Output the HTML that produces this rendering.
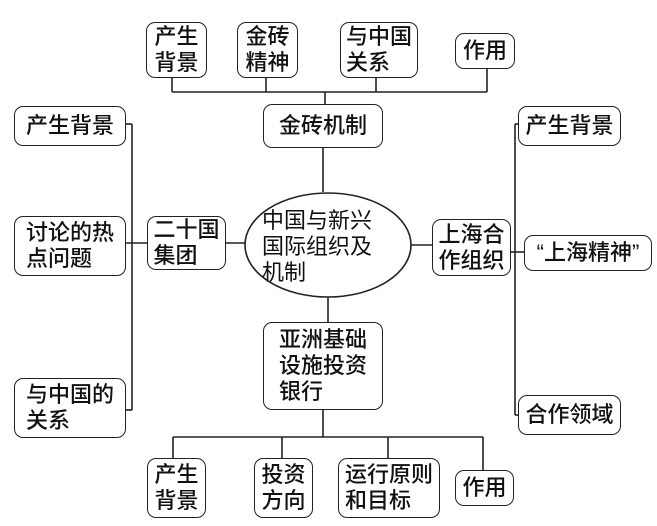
<!DOCTYPE html>
<html><head><meta charset="utf-8"><style>
body{margin:0;background:#fff;width:657px;height:526px;position:relative;overflow:hidden;font-family:"Liberation Sans","Noto Sans CJK SC",sans-serif;}
.b{position:absolute;border:1.6px solid #222;border-radius:9px;box-sizing:border-box;background:#fff;font-size:22px;line-height:26px;color:#111;display:flex;align-items:center;justify-content:center;text-align:left;font-weight:500;}
svg{position:absolute;left:0;top:0}
</style></head><body>
<svg width="657" height="526" stroke="#222" stroke-width="1.6" fill="none">
<line x1="172" y1="92" x2="487" y2="92"/>
<line x1="172" y1="78" x2="172" y2="92"/>
<line x1="266" y1="78" x2="266" y2="92"/>
<line x1="376" y1="78" x2="376" y2="92"/>
<line x1="487" y1="68" x2="487" y2="92"/>
<line x1="325" y1="92" x2="325" y2="104"/>
<line x1="323" y1="148" x2="323" y2="192"/>
<ellipse cx="328" cy="245" rx="83" ry="52" fill="#fff"/>
<line x1="226" y1="243" x2="246" y2="243"/>
<line x1="132" y1="124" x2="132" y2="410"/>
<line x1="126" y1="124" x2="132" y2="124"/>
<line x1="126" y1="410" x2="132" y2="410"/>
<line x1="126" y1="243" x2="147" y2="243"/>
<line x1="411" y1="245" x2="432" y2="245"/>
<line x1="515" y1="124" x2="515" y2="415"/>
<line x1="515" y1="124" x2="518" y2="124"/>
<line x1="515" y1="415" x2="518" y2="415"/>
<line x1="511" y1="252" x2="524" y2="252"/>
<line x1="328" y1="297" x2="328" y2="322"/>
<line x1="323" y1="410" x2="323" y2="437"/>
<line x1="173" y1="437" x2="483" y2="437"/>
<line x1="173" y1="437" x2="173" y2="458"/>
<line x1="282" y1="437" x2="282" y2="458"/>
<line x1="388" y1="437" x2="388" y2="458"/>
<line x1="483" y1="437" x2="483" y2="470"/>
</svg>
<div class="b" style="left:146px;top:22px;width:61px;height:56px">产生<br>背景</div>
<div class="b" style="left:237px;top:22px;width:61px;height:56px">金砖<br>精神</div>
<div class="b" style="left:340px;top:22px;width:78px;height:56px">与中国<br>关系</div>
<div class="b" style="left:455px;top:33px;width:60px;height:36px">作用</div>
<div class="b" style="left:263px;top:104px;width:120px;height:44px">金砖机制</div>
<div style="position:absolute;left:262px;top:208px;width:140px;font-size:22px;line-height:26px;color:#111;">中国与新兴<br>国际组织及<br>机制</div>
<div class="b" style="left:147px;top:216px;width:79px;height:54px">二十国<br>集团</div>
<div class="b" style="left:14px;top:106px;width:112px;height:40px">产生背景</div>
<div class="b" style="left:14px;top:216px;width:112px;height:60px">讨论的热<br>点问题</div>
<div class="b" style="left:14px;top:378px;width:112px;height:60px">与中国的<br>关系</div>
<div class="b" style="left:432px;top:219px;width:79px;height:57px">上海合<br>作组织</div>
<div class="b" style="left:518px;top:106px;width:103px;height:40px">产生背景</div>
<div class="b" style="left:524px;top:235px;width:128px;height:36px">“上海精神”</div>
<div class="b" style="left:518px;top:395px;width:103px;height:40px">合作领域</div>
<div class="b" style="left:263px;top:322px;width:120px;height:88px">亚洲基础<br>设施投资<br>银行</div>
<div class="b" style="left:147px;top:458px;width:59px;height:60px">产生<br>背景</div>
<div class="b" style="left:254px;top:458px;width:59px;height:60px">投资<br>方向</div>
<div class="b" style="left:338px;top:458px;width:102px;height:60px">运行原则<br>和目标</div>
<div class="b" style="left:455px;top:470px;width:59px;height:36px">作用</div>
</body></html>
